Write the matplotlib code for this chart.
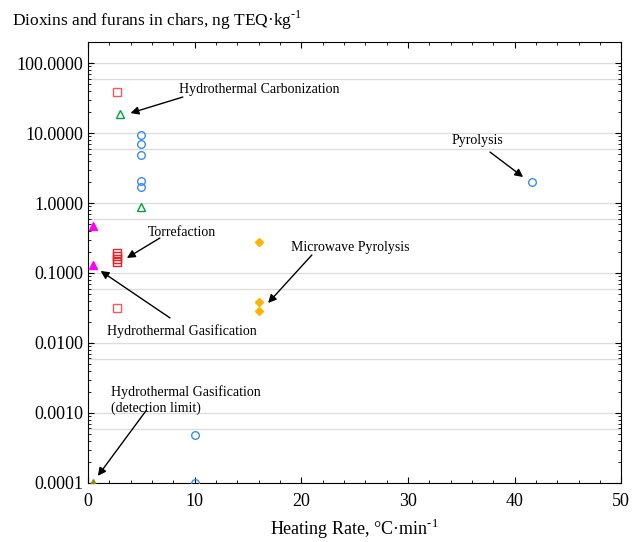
import numpy as np
import matplotlib
matplotlib.use('Agg')
import matplotlib.pyplot as plt
from matplotlib.ticker import FixedLocator, MultipleLocator, FormatStrFormatter, NullFormatter

plt.rcParams['font.family'] = ['Liberation Serif', 'DejaVu Serif']
plt.rcParams['mathtext.fontset'] = 'custom'
plt.rcParams['mathtext.rm'] = 'Liberation Serif'

# данные (скорость нагрева, °C/min ; ng TEQ/kg)
htc_sq_x = [2.7, 2.7]
htc_sq_y = [38.5, 0.032]
torref_x = [2.7, 2.7, 2.7, 2.7]
torref_y = [0.19, 0.175, 0.16, 0.145]
htc_tri_x = [3.0, 5.0]
htc_tri_y = [18.7, 0.88]
pyro_x = [5.0, 5.0, 5.0, 5.0, 5.0, 10.0, 10.0, 41.6]
pyro_y = [9.4, 7.0, 4.85, 2.06, 1.7, 0.00049, 0.0001, 2.0]
hgas_x = [0.5, 0.5]
hgas_y = [0.47, 0.13]
mw_x = [16.0, 16.0, 16.0]
mw_y = [0.28, 0.039, 0.029]
hgas_dl_x = [0.5]
hgas_dl_y = [0.0001]

fig = plt.figure(figsize=(6.32, 5.42), dpi=100)
ax = fig.add_axes([0.139, 0.109, 0.844, 0.8135])

ax.set_yscale('log')
ax.set_xlim(0, 50)
ax.set_ylim(1e-4, 200)

# сетка: декады и линия на 0.59 декады
decades = [1e-4, 1e-3, 1e-2, 1e-1, 1, 10, 100]
for d in decades:
    ax.axhline(d, color='#dcdcdc', lw=0.9, zorder=0)
    if d > 1e-4:
        ax.axhline(d * 0.59, color='#dcdcdc', lw=0.9, zorder=0)

ms = 5.5
ax.plot(htc_sq_x, htc_sq_y, 's', mfc='none', mec='#ee5a62', mew=1, ms=ms, zorder=3)
ax.plot(torref_x, torref_y, 's', mfc='none', mec='#e82028', mew=1, ms=ms, zorder=3)
ax.plot(htc_tri_x, htc_tri_y, '^', mfc='none', mec='#00a23c', mew=1, ms=ms, zorder=3)
ax.plot(pyro_x, pyro_y, 'o', mfc='none', mec='#3a8ee0', mew=1, ms=ms, zorder=3)
ax.plot(hgas_x, hgas_y, '^', color='#ff00ff', ms=ms, zorder=3)
ax.plot(mw_x, mw_y, 'D', color='#ffb400', ms=4.5, zorder=3)
ax.plot(hgas_dl_x, hgas_dl_y, '^', color='#8a8a00', ms=ms, zorder=3)

# подписи со стрелками
arrow = dict(arrowstyle='-|>', color='black', lw=1, mutation_scale=12, shrinkA=0, shrinkB=0)
labels = [
    ('Hydrothermal Carbonization', (8.5, 42.5), (8.9, 32.7), (4.0, 19.3)),
    ('Pyrolysis', (34.05, 7.94), (37.7, 5.35), (40.8, 2.35)),
    ('Torrefaction', (5.6, 0.373), (6.75, 0.316), (3.66, 0.164)),
    ('Microwave Pyrolysis', (19.0, 0.235), (21.0, 0.181), (16.9, 0.0373)),
    ('Hydrothermal Gasification', (1.78, 0.0148), (7.7, 0.0228), (1.2, 0.107)),
    ('Hydrothermal Gasification\n(detection limit)', (2.16, 0.00153), (5.5, 0.0011), (0.94, 0.000126)),
]
for txt, tpos, tail, tip in labels:
    ax.text(tpos[0], tpos[1], txt, fontsize=10, ha='left', va='center', linespacing=1.2)
    ax.annotate('', xy=tip, xytext=tail, arrowprops=arrow)

ax.yaxis.set_major_locator(FixedLocator(decades))
ax.yaxis.set_major_formatter(FormatStrFormatter('%.4f'))
ax.yaxis.set_minor_formatter(NullFormatter())
ax.xaxis.set_major_locator(MultipleLocator(10))
ax.xaxis.set_minor_locator(MultipleLocator(2))
ax.tick_params(which='both', direction='in', top=True, right=True, labelsize=13)
ax.tick_params(which='major', length=4)
ax.tick_params(which='minor', length=2)
ax.tick_params(axis='x', pad=7)

ax.set_xlabel('Heating Rate, °C·min$^{\\text{-}1}$', fontsize=13, labelpad=5)
fig.text(12 / 632, 1 - 20 / 542, 'Dioxins and furans in chars, ng TEQ·kg$^{\\text{-}1}$',
         fontsize=12.5, ha='left', va='center')

fig.savefig('out.png', dpi=100)
plt.close()
